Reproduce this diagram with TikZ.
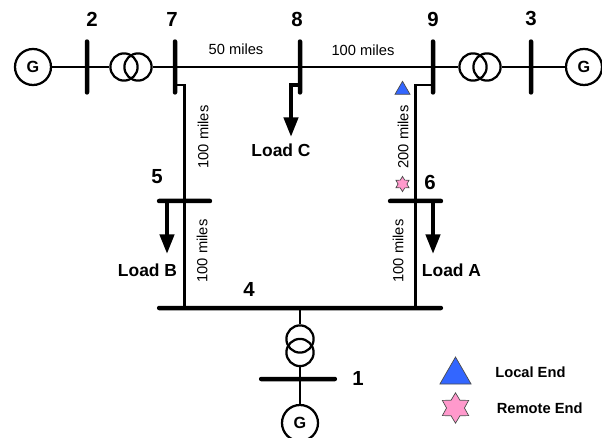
\documentclass[tikz,border=0pt]{standalone}
\usepackage{fontspec}
\setmainfont{Liberation Sans}
\usetikzlibrary{arrows.meta,shapes.geometric}
\definecolor{localblue}{HTML}{3366FF}
\definecolor{remotepink}{HTML}{FF99CC}

\begin{document}
\begin{tikzpicture}[x=0.025cm,y=-0.025cm,
  line/.style={line width=1.7pt},
  load/.style={line width=3pt,-{Triangle[width=10pt,length=14pt]},shorten >=0pt},
  gen/.style={draw,circle,line width=1.6pt,minimum size=0.9cm,inner sep=0pt,font=\fontsize{11.5}{12}\bfseries\selectfont},
  coil/.style={draw,circle,line width=1.6pt,minimum size=0.68cm,inner sep=0pt},
  vbus/.style={fill=black,rounded corners=1.5pt,minimum width=3.2pt,minimum height=1.38cm,inner sep=0pt},
  hbus/.style={fill=black,rounded corners=1.5pt,minimum height=3.2pt,inner sep=0pt},
  num/.style={font=\fontsize{14.5}{15}\bfseries\selectfont},
  loadlabel/.style={font=\fontsize{12.4}{14}\bfseries\selectfont},
  dist/.style={font=\fontsize{10.45}{12}\selectfont},
  keylabel/.style={anchor=west,font=\fontsize{10.45}{12}\bfseries\selectfont},
  localend/.style={draw=black!70,fill=localblue,regular polygon,regular polygon sides=3,inner sep=0pt,line width=0.5pt},
  remoteend/.style={draw=black!70,fill=remotepink,star,star points=6,star point ratio=1.7,inner sep=0pt,line width=0.5pt}]
  \useasboundingbox (0,0) rectangle (602,438);
  % buses
  \node[vbus](b2) at (87,67){};
  \node[vbus](b7) at (175,67){};
  \node[vbus](b8) at (300,67){};
  \node[vbus](b9) at (433,67){};
  \node[vbus](b3) at (531,67){};
  \node[hbus,minimum width=1.38cm](b5) at (184.5,201){};
  \node[hbus,minimum width=1.38cm](b6) at (415.5,201){};
  \node[hbus,minimum width=7.15cm](b4) at (300,308){};
  \node[hbus,minimum width=1.95cm](b1) at (298,379){};
  % generators and transformers
  \node[gen](g2) at (33,67){G};
  \node[gen](g3) at (584,67){G};
  \node[gen](g1) at (300,423){G};
  \node[coil](t2a) at (124,67){};
  \node[coil](t2b) at (138,67){};
  \node[coil](t3a) at (473,67){};
  \node[coil](t3b) at (487,67){};
  \node[coil](t1a) at (300,339){};
  \node[coil](t1b) at (300,352.5){};
  % lines
  \draw[line] (g2.east) -- (b2.center) -- (t2a.west);
  \draw[line] (t2b.east) -- (b7.center) -- (b8.center) -- (b9.center) -- (t3a.west);
  \draw[line] (t3b.east) -- (b3.center) -- (g3.west);
  \coordinate (j7) at (175,85);
  \coordinate (j9) at (433,85);
  \draw[line] (j7) -| (b5.center) -- (b5.center |- b4.center);
  \draw[line] (j9) -| (b6.center) -- (b6.center |- b4.center);
  \draw[line] (b4.center -| t1a.north) -- (t1a.north);
  \draw[line] (t1b.south) -- (g1.north);
  % loads
  \coordinate (lb) at (167,254);
  \coordinate (la) at (433,254);
  \coordinate (j8) at (300,85);
  \coordinate (lc) at (291,137);
  \draw[load] (b5.center -| lb) -- (lb);
  \draw[load] (b6.center -| la) -- (la);
  \draw[load] (j8) -| (lc);
  \node[loadlabel](nb) at (147.5,270){Load B};
  \node[loadlabel](na) at (451.5,270){Load A};
  \node[loadlabel](nc) at (281,150){Load C};
  % bus numbers
  \node[num](n2) at (92,19){2};
  \node[num](n7) at (172,19){7};
  \node[num](n8) at (297,19){8};
  \node[num](n9) at (433,19){9};
  \node[num](n3) at (531,19){3};
  \node[num](n5) at (157,177){5};
  \node[num](n6) at (430,182){6};
  \node[num](n4) at (249,289){4};
  \node[num](n1) at (358,378){1};
  % distances
  \node[dist](d78) at (236,49){50 miles};
  \node[dist](d89) at (363,50){100 miles};
  \node[dist,rotate=90](d75) at (203,137){100 miles};
  \node[dist,rotate=90](d96) at (403,137){200 miles};
  \node[dist,rotate=90](d54) at (202,251){100 miles};
  \node[dist,rotate=90](d64) at (398,251){100 miles};
  % markers and key
  \node[localend,minimum size=0.435cm](m1) at (402.5,90){};
  \node[remoteend,minimum size=0.38cm](m2) at (402.5,184){};
  \node[localend,minimum size=0.9cm](k1) at (455.5,375){};
  \node[remoteend,minimum size=0.76cm](k2) at (455.5,408){};
  \node[keylabel,inner sep=0pt](l1) at (495,372){Local End};
  \node[keylabel,inner sep=0pt](l2) at (496.5,408){Remote End};
\end{tikzpicture}
\end{document}
